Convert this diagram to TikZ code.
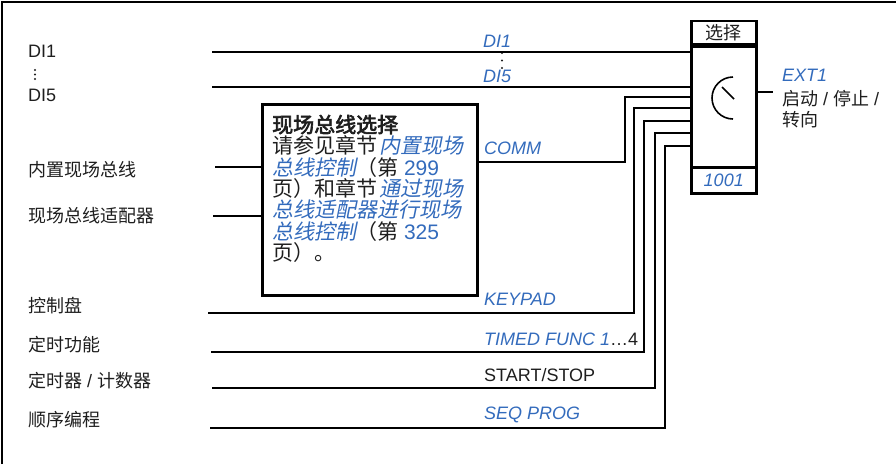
\documentclass[tikz,border=0pt]{standalone}
\usepackage{fontspec}
\setmainfont{Liberation Sans}
\newfontfamily\cjk{Noto Sans CJK SC}
\newfontfamily\cjkit{Noto Sans CJK SC}[FakeSlant=0.2]
\newfontfamily\cjkbf{Noto Sans CJK SC}[FakeBold=3]
\definecolor{lnk}{RGB}{51,107,188}
\definecolor{txt}{RGB}{30,30,30}
\tikzset{
  lbl/.style={anchor=west, inner sep=0pt, text=txt, font=\fontsize{18}{21}\selectfont},
  blu/.style={lbl, text=lnk, font=\fontsize{18}{21}\selectfont\itshape},
  bt/.style={anchor=base west, inner sep=0pt, text=txt, font=\fontsize{21}{22}\selectfont},
  wire/.style={line width=2pt},
  boxl/.style={draw, line width=2.5pt, inner sep=0pt},
}
\newcommand{\lk}[1]{\textcolor{lnk}{\cjkit #1}}
\newcommand{\lkn}[1]{\textcolor{lnk}{#1}}
\begin{document}
\begin{tikzpicture}[x=1pt,y=-1pt]
\useasboundingbox (0,0) rectangle (896,464);
% frame
\draw[line width=1.4pt] (2,464) -- (2,2) -- (896,2);

% selector block
\node[boxl, minimum width=65pt, minimum height=121pt, anchor=north west] (sel) at (690,45) {};
\node[boxl, minimum width=65pt, minimum height=23pt, anchor=south west, text=txt, font=\fontsize{18}{21}\selectfont] (selh) at (690,45) {\cjk 选择};
\node[boxl, minimum width=65pt, minimum height=26pt, anchor=north west, text=lnk, font=\fontsize{18}{21}\selectfont\itshape] (self) at (690,166) {1001};
\draw[line width=1.6pt] (733,77) arc[start angle=90, end angle=270, radius=21pt];
\coordinate (nd1) at (722,87);
\coordinate (nd2) at (734,99);
\draw[line width=1.6pt] (nd1) -- (nd2);

% fieldbus box
\node[boxl, minimum width=215pt, minimum height=191pt, anchor=north west] (fb) at (261,103) {};
\node[bt] (t1) at (272,132.5) {\cjkbf 现场总线选择};
\node[bt] (t2) at (272,153.8) {{\cjk 请参见章节}\hspace{2pt}\lk{内置现场}};
\node[bt] (t3) at (272,175.1) {\lk{总线控制}{\cjk （第} \lkn{299}};
\node[bt] (t4) at (272,196.4) {{\cjk 页）和章节}\hspace{2pt}\lk{通过现场}};
\node[bt] (t5) at (272,217.7) {\lk{总线适配器进行现场}};
\node[bt] (t6) at (272,239.0) {\lk{总线控制}{\cjk （第} \lkn{325}};
\node[bt] (t7) at (272,260.3) {\cjk 页）。};

% left labels
\node[lbl] (di1) at (28,51) {DI1};
\fill[txt] (35,70) circle (1.2pt) (35,74.5) circle (1.2pt) (35,79) circle (1.2pt);
\node[lbl] (di5) at (28,95) {DI5};
\node[lbl] (l1) at (28,170) {\cjk 内置现场总线};
\node[lbl] (l2) at (28,215.5) {\cjk 现场总线适配器};
\node[lbl] (l3) at (28,305.5) {\cjk 控制盘};
\node[lbl] (l4) at (28,344.5) {\cjk 定时功能};
\node[lbl] (l5) at (28,380.5) {{\cjk 定时器} / {\cjk 计数器}};
\node[lbl] (l6) at (28,419.5) {\cjk 顺序编程};

% signal labels
\node[blu] (s1) at (483,41) {DI1};
\fill[txt] (502,53) circle (1.2pt) (502,60.5) circle (1.2pt) (502,68) circle (1.2pt);
\node[blu] (s5) at (483,76) {DI5};
\node[blu] (s6) at (484,148.5) {COMM};
\node[blu] (s7) at (484,299.5) {KEYPAD};
\node[lbl] (s8) at (484,339) {\textcolor{lnk}{\itshape TIMED FUNC 1}\ldots4};
\node[lbl] (s9) at (484,375) {START/STOP};
\node[blu] (s10) at (484,415) {SEQ PROG};

% output
\node[blu] (o1) at (782,75) {EXT1};
\node[lbl] (o2) at (782,99) {{\cjk 启动} / {\cjk 停止} /};
\node[lbl] (o3) at (782,120) {\cjk 转向};
\coordinate (oe) at (773,92);
\draw[wire] (oe -| sel.east) -- (oe);

% wires
\coordinate (w1) at (212,52);
\coordinate (w2) at (212,87);
\draw[wire] (w1) -- (w1 -| sel.west);
\draw[wire] (w2) -- (w2 -| sel.west);

\coordinate (f1) at (215,167);
\coordinate (f2) at (213,216);
\draw[wire] (f1) -- (f1 -| fb.west);
\draw[wire] (f2) -- (f2 -| fb.west);

\coordinate (c1) at (476,162);
\coordinate (c1t) at (625,97);
\draw[wire] (c1) -| (c1t) -- (c1t -| sel.west);

\coordinate (k1) at (208,313);
\coordinate (k1t) at (634,108);
\draw[wire] (k1) -| (k1t) -- (k1t -| sel.west);

\coordinate (k2) at (211,352);
\coordinate (k2t) at (644,121);
\draw[wire] (k2) -| (k2t) -- (k2t -| sel.west);

\coordinate (k3) at (212,388);
\coordinate (k3t) at (655,133);
\draw[wire] (k3) -| (k3t) -- (k3t -| sel.west);

\coordinate (k4) at (210,428);
\coordinate (k4t) at (665,146);
\draw[wire] (k4) -| (k4t) -- (k4t -| sel.west);
\end{tikzpicture}
\end{document}
